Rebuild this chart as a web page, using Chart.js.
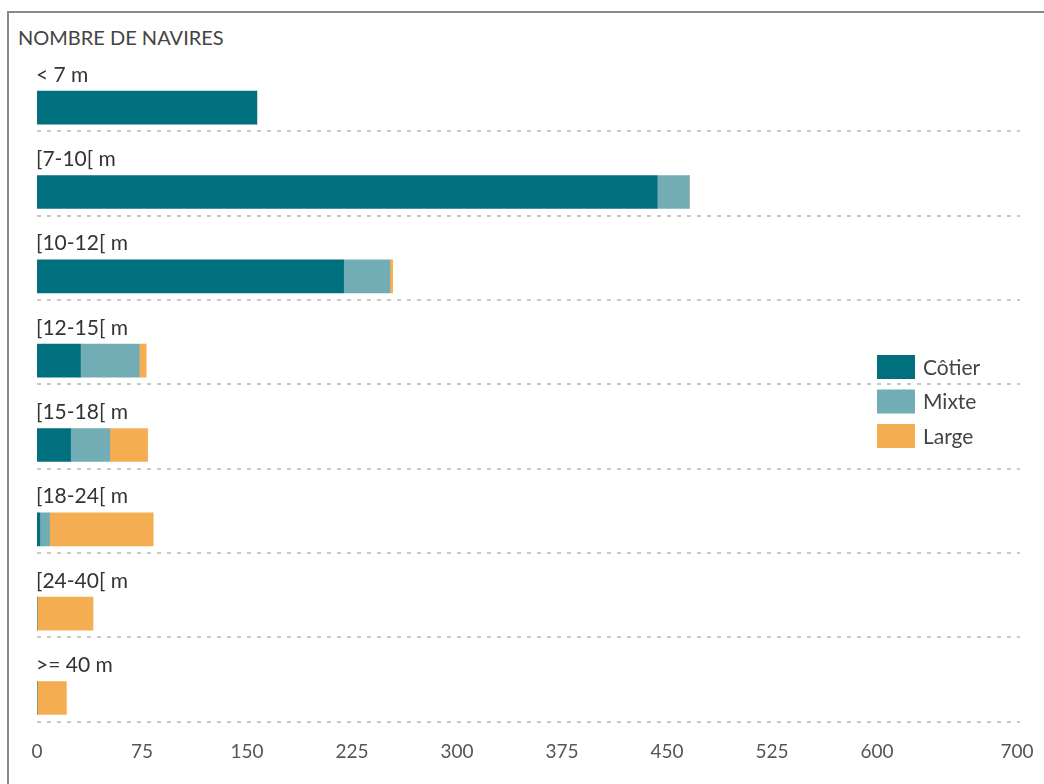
<!DOCTYPE html>
<html>
<head>
<meta charset="utf-8">
<script src="https://cdn.jsdelivr.net/npm/chart.js@4/dist/chart.umd.min.js"></script>
<style>
  body { margin: 0; background: #fff; overflow: hidden; }
  #frame { position: absolute; left: 7px; top: 11px; width: 1100px; height: 800px;
           border-left: 2px solid #8a8a8a; border-top: 2px solid #8a8a8a; }
  #title { position: absolute; left: 18px; top: 25px; font: 20px Lato, sans-serif; color: #444; }
  #wrap { position: absolute; left: 0; top: 0; width: 1044px; height: 784px; }
</style>
</head>
<body>
<div id="frame"></div>
<div id="title">NOMBRE DE NAVIRES</div>
<div id="wrap"><canvas id="chart"></canvas></div>
<script>
const categories = ['< 7 m', '[7-10[ m', '[10-12[ m', '[12-15[ m', '[15-18[ m', '[18-24[ m', '[24-40[ m', '>= 40 m'];
const cotier = [157, 443, 219, 31, 24, 2, 0, 0];
const mixte = [0, 23, 33, 42, 28, 7, 0, 0];
const large = [0, 0, 2, 5, 27, 74, 40, 21];
const tickValues = [0, 75, 150, 225, 300, 375, 450, 525, 600, 700];

Chart.defaults.font.family = 'Lato, sans-serif';

// labels above bars, dotted separators, legend box
const overlay = {
    id: 'overlay',
    beforeDatasetsDraw(chart) {
        const ctx = chart.ctx;
        const x = chart.scales.x;
        const y = chart.scales.y;
        ctx.save();
        ctx.strokeStyle = '#c8c8c8';
        ctx.lineWidth = 2;
        ctx.setLineDash([4, 6]);
        categories.forEach((c, i) => {
            const py = Math.round(y.getPixelForValue(i) + 23.5);
            ctx.beginPath();
            ctx.moveTo(x.getPixelForValue(0), py);
            ctx.lineTo(chart.chartArea.right + 3, py);
            ctx.stroke();
        });
        ctx.restore();
    },
    afterDraw(chart) {
        const ctx = chart.ctx;
        const x = chart.scales.x;
        const y = chart.scales.y;
        ctx.save();
        ctx.fillStyle = '#333';
        ctx.font = '21px Lato, sans-serif';
        ctx.textBaseline = 'alphabetic';
        categories.forEach((c, i) => {
            ctx.fillText(c, x.getPixelForValue(0) - 1, y.getPixelForValue(i) - 26);
        });

        // legend
        chart.data.datasets.forEach((ds, i) => {
            const top = 355 + i * 34.5;
            ctx.fillStyle = ds.backgroundColor;
            ctx.fillRect(877, top, 38, 24);
            ctx.fillStyle = '#444';
            ctx.textBaseline = 'middle';
            ctx.fillText(ds.label, 923, top + 13);
        });
        ctx.restore();
    }
};

new Chart(document.getElementById('chart'), {
    type: 'bar',
    data: {
        labels: categories,
        datasets: [
            { label: 'Côtier', data: cotier, backgroundColor: '#00707f' },
            { label: 'Mixte', data: mixte, backgroundColor: '#72adb6' },
            { label: 'Large', data: large, backgroundColor: '#f5ad52' }
        ]
    },
    options: {
        indexAxis: 'y',
        responsive: true,
        maintainAspectRatio: false,
        animation: false,
        layout: { padding: { left: 37, right: 27, top: 65.5, bottom: 21 } },
        datasets: { bar: { barThickness: 33, borderSkipped: false } },
        plugins: {
            legend: { display: false },
            tooltip: { enabled: false }
        },
        scales: {
            x: {
                stacked: true,
                min: 0,
                max: 700,
                afterBuildTicks: scale => {
                    scale.ticks = tickValues.map(v => ({ value: v }));
                },
                grid: { display: false, drawTicks: false },
                border: { display: false },
                ticks: { color: '#555', font: { size: 19 }, padding: 0, autoSkip: false, maxRotation: 0 }
            },
            y: {
                stacked: true,
                display: false
            }
        }
    },
    plugins: [overlay]
});
</script>
</body>
</html>
